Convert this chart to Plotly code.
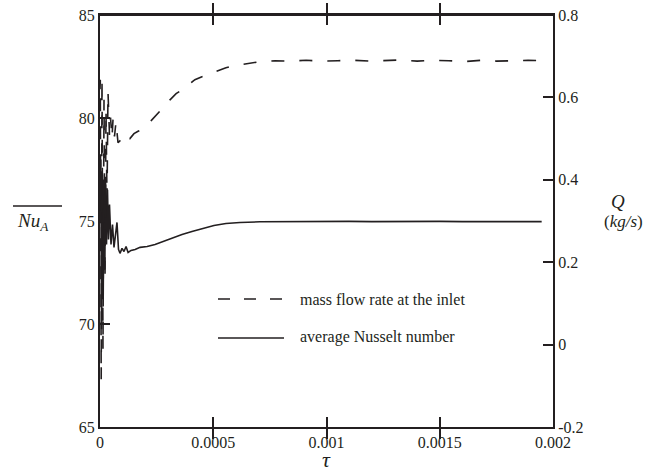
import plotly.graph_objects as go

# ---- data ----
t_q = [0.0, 1.3e-6, 5.3e-6, 8.8e-6, 1.32e-5, 1.77e-5, 2.21e-5, 2.65e-5, 3.09e-5, 3.53e-5,
       4.19e-5, 4.64e-5, 5.3e-5, 5.74e-5, 6.4e-5, 7.06e-5, 7.95e-5, 9.27e-5, 1.06e-4, 1.19e-4,
       1.32e-4, 1.5e-4, 1.72e-4, 1.99e-4, 2.25e-4, 2.52e-4, 2.78e-4, 3.09e-4, 3.36e-4, 3.62e-4,
       3.89e-4, 4.19e-4, 4.5e-4, 4.86e-4, 5.21e-4, 5.56e-4, 5.96e-4, 6.4e-4, 6.98e-4, 7.73e-4,
       8.4e-4, 9.1e-4, 9.8e-4, 1.05e-3, 1.12e-3, 1.19e-3, 1.26e-3, 1.33e-3, 1.40e-3, 1.47e-3,
       1.54e-3, 1.61e-3, 1.68e-3, 1.75e-3, 1.82e-3, 1.89e-3, 1.95e-3]
q_inlet = [0.62, 0.643, -0.084, 0.647, -0.011, 0.594, 0.158, 0.570, 0.352, 0.614,
           0.509, 0.551, 0.502, 0.546, 0.505, 0.541, 0.490, 0.497, 0.490, 0.505,
           0.500, 0.512, 0.519, 0.529, 0.543, 0.558, 0.575, 0.594, 0.609, 0.618,
           0.631, 0.643, 0.650, 0.657, 0.664, 0.672, 0.677, 0.681, 0.686, 0.689,
           0.688, 0.690, 0.688, 0.689, 0.690, 0.688, 0.689, 0.691, 0.688, 0.690,
           0.689, 0.687, 0.690, 0.688, 0.689, 0.690, 0.689]

t_nu = [0.0, 3.5e-6, 7.1e-6, 1.06e-5, 1.41e-5, 1.77e-5, 2.12e-5, 2.47e-5, 2.87e-5, 3.31e-5,
        3.75e-5, 4.19e-5, 4.86e-5, 5.52e-5, 6.18e-5, 7.06e-5, 7.5e-5, 8.17e-5, 8.83e-5, 9.71e-5,
        1.06e-4, 1.15e-4, 1.24e-4, 1.37e-4, 1.55e-4, 1.77e-4, 2.08e-4, 2.43e-4, 2.78e-4, 3.18e-4,
        3.62e-4, 4.06e-4, 4.55e-4, 5.03e-4, 5.56e-4, 6.18e-4, 7.06e-4, 8.0e-4, 9.0e-4, 1.0e-3,
        1.1e-3, 1.2e-3, 1.3e-3, 1.4e-3, 1.5e-3, 1.6e-3, 1.7e-3, 1.8e-3, 1.95e-3]
nu_avg = [74.98, 77.98, 69.74, 77.25, 71.20, 77.01, 72.65, 76.77, 73.86, 76.52,
          74.10, 75.80, 73.86, 74.83, 73.72, 74.59, 74.93, 73.62, 73.43, 73.67,
          73.52, 73.76, 73.47, 73.57, 73.62, 73.72, 73.76, 73.86, 74.01, 74.15,
          74.35, 74.49, 74.64, 74.78, 74.88, 74.93, 74.96, 74.97, 74.98, 74.97,
          74.98, 74.97, 74.98, 74.97, 74.98, 74.97, 74.98, 74.97, 74.97]

x_ticks = [0, 0.0005, 0.001, 0.0015, 0.002]
x_ticklabels = ["0", "0.0005", "0.001", "0.0015", "0.002"]
y1_ticks = [65, 70, 75, 80, 85]
y2_ticks = [-0.2, 0, 0.2, 0.4, 0.6, 0.8]
y2_ticklabels = ["-0.2", "0", "0.2", "0.4", "0.6", "0.8"]
legend_labels = ["mass flow rate at the inlet", "average Nusselt number"]

INK = "#231f20"
FONT = "Liberation Serif"

fig = go.Figure()
fig.add_trace(go.Scatter(x=t_q, y=q_inlet, mode="lines", yaxis="y2",
                         line=dict(color=INK, width=1.6, dash="13px,15px"),
                         showlegend=False))
fig.add_trace(go.Scatter(x=t_nu, y=nu_avg, mode="lines", yaxis="y",
                         line=dict(color=INK, width=1.6),
                         showlegend=False))

axis_common = dict(showline=True, linecolor=INK, linewidth=2, ticks="inside",
                   ticklen=10, tickwidth=1.5, tickcolor=INK, showgrid=False,
                   zeroline=False, automargin=False,
                   tickfont=dict(family=FONT, size=16, color=INK))

fig.update_layout(
    width=657, height=473,
    margin=dict(l=100, r=104, t=15, b=46),
    paper_bgcolor="white", plot_bgcolor="white",
    xaxis=dict(range=[0, 0.002], tickvals=x_ticks, ticktext=x_ticklabels,
               mirror="allticks", **axis_common),
    yaxis=dict(range=[65, 85], tickvals=y1_ticks, **axis_common),
    yaxis2=dict(range=[-0.2, 0.8], tickvals=y2_ticks, ticktext=y2_ticklabels,
                overlaying="y", side="right", **axis_common),
)

def px_x(p):
    return (p - 100) / 453.0

def px_y(p):
    return (427 - p) / 412.0

annots = [
    dict(x=0.5, y=px_y(459), text="<i>τ</i>", font=dict(size=22)),
    dict(x=px_x(33), y=px_y(222), text="<i>Nu<sub>A</sub></i>", font=dict(size=19)),
    dict(x=px_x(618), y=px_y(201), text="<i>Q</i>", font=dict(size=19)),
    dict(x=px_x(623), y=px_y(221), text="(<i>kg/s</i>)", font=dict(size=17)),
    dict(x=px_x(298), y=px_y(299), text=legend_labels[0], font=dict(size=16), xanchor="left"),
    dict(x=px_x(298), y=px_y(337), text=legend_labels[1], font=dict(size=16), xanchor="left"),
]
for a in annots:
    a.setdefault("xanchor", "center")
    a["font"].update(family=FONT, color=INK)
    fig.add_annotation(xref="paper", yref="paper", yanchor="middle", showarrow=False, **a)

# top frame edge (drawn explicitly in case the mirrored axis line is skipped)
fig.add_shape(type="line", xref="paper", yref="paper", x0=0, x1=1, y0=1, y1=1,
              line=dict(color=INK, width=2))
# overline above Nu_A
fig.add_shape(type="line", xref="paper", yref="paper", x0=px_x(13), x1=px_x(62),
              y0=px_y(206), y1=px_y(206), line=dict(color=INK, width=1.3))
# legend samples
fig.add_shape(type="line", xref="paper", yref="paper", x0=px_x(218), x1=px_x(287),
              y0=px_y(299), y1=px_y(299), line=dict(color=INK, width=1.6, dash="12px,14px"))
fig.add_shape(type="line", xref="paper", yref="paper", x0=px_x(218), x1=px_x(284),
              y0=px_y(338), y1=px_y(338), line=dict(color=INK, width=1.6))

fig.write_html("out.html", config={"displayModeBar": False},
               post_script="document.body.style.margin='0';")
